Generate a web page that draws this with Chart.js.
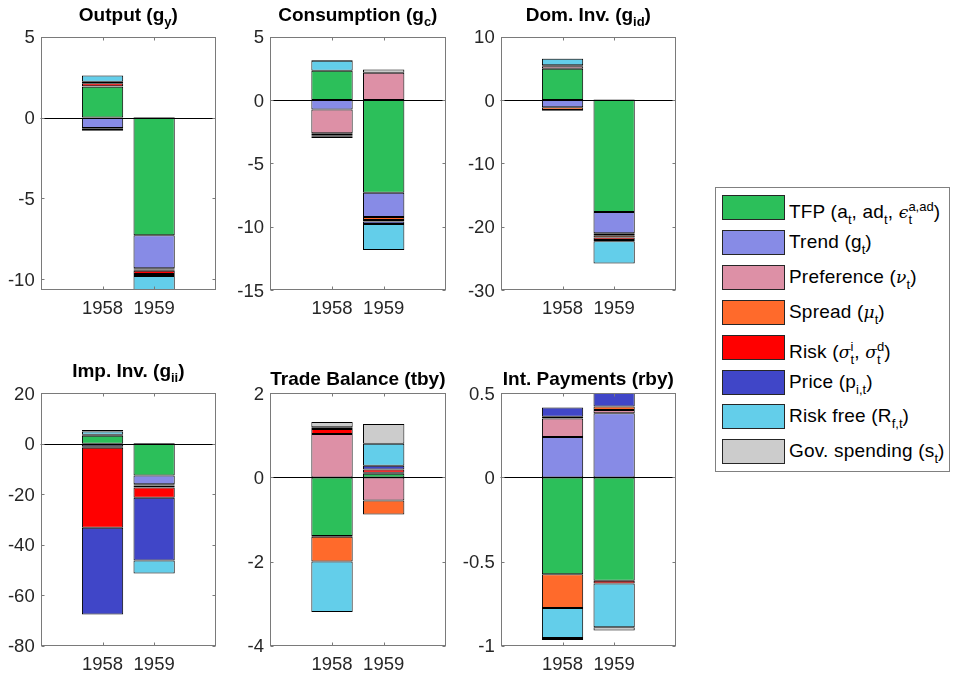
<!DOCTYPE html>
<html>
<head>
<meta charset="utf-8">
<script src="https://cdn.jsdelivr.net/npm/chart.js@4.4.1/dist/chart.umd.min.js"></script>
<style>
  html, body { margin: 0; padding: 0; background: #fff; }
  #fig { position: relative; width: 954px; height: 679px; overflow: hidden;
         font-family: "Liberation Sans", Arial, Helvetica, sans-serif; }
  #fig canvas { position: absolute; left: 0; top: 0; }
  #legendBox { position: absolute; left: 715px; top: 187px; width: 235px; height: 285px;
               border: 1px solid #808080; box-sizing: border-box; background: #fff; }
  .sw { position: absolute; left: 722px; width: 63px; height: 25px; box-sizing: border-box;
        border: 1px solid #262626; }
  .lt { position: absolute; left: 789px; top: 0; height: 25px; line-height: 25px;
        font-size: 19px; letter-spacing: 0.2px; color: #000; white-space: nowrap; }
  .lt .sb { font-size: 13px; position: relative; top: 6px; letter-spacing: 0; }
  .lt i { font-family: "DejaVu Serif", serif; font-size: 17px; }
  .ss { display: inline-block; position: relative; top: 6px; vertical-align: baseline;
        font-size: 13px; line-height: 13px; letter-spacing: 0; }
  .ss > span { display: block; }
</style>
</head>
<body>
<div id="fig">
  <canvas id="c1" width="954" height="679"></canvas>
  <canvas id="c2" width="954" height="679"></canvas>
  <canvas id="c3" width="954" height="679"></canvas>
  <canvas id="c4" width="954" height="679"></canvas>
  <canvas id="c5" width="954" height="679"></canvas>
  <canvas id="c6" width="954" height="679"></canvas>
  <div id="legendBox"></div>
</div>
<script>
// Years shown on every panel
const years = [1958, 1959];

// Shock groups, in stacking order, and their fill colours
const shockNames = ['TFP', 'Trend', 'Preference', 'Spread', 'Risk', 'Price', 'Risk free', 'Gov. spending'];
const shockColors = ['#2CBF5A', '#878BE6', '#DD90A6', '#FF6A2B', '#FF0000', '#4046C8', '#63CEEA', '#CCCCCC'];

// Historical decomposition: one row per shock, columns = [1958, 1959]
const outputContrib = [
  [1.90, -7.28], [-0.64, -2.04], [-0.05, -0.07], [0.04, -0.08],
  [0.18, -0.20], [0.10, -0.12], [0.38, -0.87], [-0.12, 0.03]
];
const consumptionContrib = [
  [2.31, -7.32], [-0.74, -1.92], [-1.89, 2.16], [-0.16, -0.23],
  [-0.08, -0.12], [-0.13, -0.20], [0.79, -2.05], [0.06, 0.26]
];
const domInvContrib = [
  [4.95, -17.70], [-1.16, -3.35], [0.40, -0.30], [-0.40, -0.35],
  [-0.15, -0.40], [0.15, -0.20], [1.00, -3.50], [0.05, 0.10]
];
const impInvContrib = [
  [3.20, -12.60], [-1.00, -3.40], [0.40, -0.50], [-0.60, -0.80],
  [-31.70, -4.10], [-34.30, -24.80], [1.30, -5.20], [0.60, 0.30]
];
const tradeBalanceContrib = [
  [-1.39, 0.09], [-0.02, 0.02], [1.03, -0.55], [-0.59, -0.33],
  [0.12, 0.08], [0.04, 0.09], [-1.20, 0.52], [0.13, 0.47]
];
const intPaymentsContrib = [
  [-0.576, -0.614], [0.240, 0.381], [0.110, 0.020], [-0.200, 0.020],
  [0.010, -0.016], [0.055, 0.090], [-0.178, -0.261], [-0.012, -0.019]
];

// Vertical axis limits and tick values per panel
const outputRange = [-10.66, 5],   outputTicks = [-10, -5, 0, 5];
const consumptionRange = [-15, 5], consumptionTicks = [-15, -10, -5, 0, 5];
const domInvRange = [-30, 10],     domInvTicks = [-30, -20, -10, 0, 10];
const impInvRange = [-80, 20],     impInvTicks = [-80, -60, -40, -20, 0, 20];
const tradeRange = [-4, 2],        tradeTicks = [-4, -2, 0, 2];
const intPayRange = [-1, 0.5],     intPayTicks = [-1, -0.5, 0, 0.5];

// Horizontal axis limits (years)
const xRange = [1956.8, 1960.2];

const FONT = '"Liberation Sans", Arial, Helvetica, sans-serif';
const TICK_FONT = '18.5px ' + FONT;
const AXW = 40, AXH = 34;
const W = 954, H = 679;

// Box, inward ticks, tick labels, zero line and a title with subscripts
const panelDecor = {
  id: 'panelDecor',
  afterDatasetsDraw(chart, args, opts) {
    const { ctx, chartArea: a, scales: { x, y } } = chart;
    ctx.save();
    ctx.lineWidth = 1;
    const y0 = Math.round(y.getPixelForValue(0)) + 0.5;
    ctx.strokeStyle = '#000';
    ctx.beginPath(); ctx.moveTo(a.left, y0); ctx.lineTo(a.right, y0); ctx.stroke();

    const L = Math.round(a.left) + 0.5, R = Math.round(a.right) - 0.5;
    const T = Math.round(a.top) + 0.5, B = Math.round(a.bottom) - 0.5;
    ctx.strokeStyle = '#7a7a7a';
    ctx.strokeRect(L, T, R - L, B - T);
    const tl = 3;
    ctx.beginPath();
    y.ticks.forEach(t => {
      const p = Math.round(y.getPixelForValue(t.value)) + 0.5;
      ctx.moveTo(L, p); ctx.lineTo(L + tl, p);
      ctx.moveTo(R, p); ctx.lineTo(R - tl, p);
    });
    x.ticks.forEach(t => {
      const p = Math.round(x.getPixelForValue(t.value)) + 0.5;
      ctx.moveTo(p, B); ctx.lineTo(p, B - tl);
      ctx.moveTo(p, T); ctx.lineTo(p, T + tl);
    });
    ctx.stroke();

    // tick labels
    ctx.fillStyle = '#262626';
    ctx.font = TICK_FONT;
    ctx.textBaseline = 'alphabetic';
    ctx.textAlign = 'right';
    y.ticks.forEach(t => {
      ctx.fillText(String(t.value), a.left - 6, y.getPixelForValue(t.value) + 6.6);
    });
    ctx.textAlign = 'center';
    x.ticks.forEach(t => {
      ctx.fillText(String(t.value), x.getPixelForValue(t.value), a.bottom + 24.3);
    });

    // title
    const segs = opts.title || [];
    const mainFont = 'bold 19px ' + FONT, subFont = 'bold 13px ' + FONT;
    let total = 0;
    segs.forEach(s => { ctx.font = s[1] ? subFont : mainFont; total += ctx.measureText(s[0]).width; });
    let cx = (a.left + a.right) / 2 - total / 2;
    const base = a.top - opts.gap;
    ctx.fillStyle = '#000';
    ctx.textAlign = 'left';
    segs.forEach(s => {
      ctx.font = s[1] ? subFont : mainFont;
      ctx.fillText(s[0], cx, base + (s[1] ? 5 : 0));
      cx += ctx.measureText(s[0]).width;
    });
    ctx.restore();
  }
};

function makePanel(id, area, title, gap, contrib, range, tickVals) {
  const datasets = shockNames.map((name, i) => ({
    label: name,
    stack: 'all',
    data: years.map((yr, j) => ({ x: yr, y: contrib[i][j] })),
    backgroundColor: shockColors[i],
    borderColor: '#000',
    borderWidth: 1,
    borderSkipped: false,
    barPercentage: 0.8,
    categoryPercentage: 1.0
  }));
  new Chart(document.getElementById(id), {
    type: 'bar',
    data: { datasets },
    options: {
      responsive: false,
      animation: false,
      events: [],
      layout: { padding: { left: area.l - AXW, right: W - area.r, top: area.t, bottom: H - area.b - AXH } },
      plugins: {
        legend: { display: false },
        tooltip: { enabled: false },
        panelDecor: { title, gap }
      },
      scales: {
        x: {
          type: 'linear', offset: false, min: xRange[0], max: xRange[1],
          grid: { display: false }, border: { display: false },
          afterBuildTicks: s => { s.ticks = years.map(v => ({ value: v })); },
          afterFit: s => { s.height = AXH; },
          ticks: { display: false }
        },
        y: {
          type: 'linear', stacked: true, min: range[0], max: range[1],
          grid: { display: false }, border: { display: false },
          afterBuildTicks: s => { s.ticks = tickVals.map(v => ({ value: v })); },
          afterFit: s => { s.width = AXW; },
          ticks: { display: false }
        }
      }
    },
    plugins: [panelDecor]
  });
}

const topRow = { t: 36.7, b: 290 }, botRow = { t: 393.3, b: 645.7 };
const cols = [{ l: 40.7, r: 216 }, { l: 270, r: 445.7 }, { l: 500.7, r: 676 }];

makePanel('c1', { ...cols[0], ...topRow }, [['Output (g', 0], ['y', 1], [')', 0]], 15.7, outputContrib, outputRange, outputTicks);
makePanel('c2', { ...cols[1], ...topRow }, [['Consumption (g', 0], ['c', 1], [')', 0]], 15.7, consumptionContrib, consumptionRange, consumptionTicks);
makePanel('c3', { ...cols[2], ...topRow }, [['Dom. Inv. (g', 0], ['id', 1], [')', 0]], 15.7, domInvContrib, domInvRange, domInvTicks);
makePanel('c4', { ...cols[0], ...botRow }, [['Imp. Inv. (g', 0], ['ii', 1], [')', 0]], 16, impInvContrib, impInvRange, impInvTicks);
makePanel('c5', { ...cols[1], ...botRow }, [['Trade Balance (tby)', 0]], 8.3, tradeBalanceContrib, tradeRange, tradeTicks);
makePanel('c6', { ...cols[2], ...botRow }, [['Int. Payments (rby)', 0]], 8.3, intPaymentsContrib, intPayRange, intPayTicks);

// Legend
const legendLabels = [
  'TFP (a<span class="sb">t</span>, ad<span class="sb">t</span>,&nbsp;<i>&#x03F5;</i><span class="ss"><span>a,ad</span><span>t</span></span>)',
  'Trend (g<span class="sb">t</span>)',
  'Preference (<i>&#x03BD;</i><span class="sb">t</span>)',
  'Spread (<i>&#x03BC;</i><span class="sb">t</span>)',
  'Risk (<i>&#x03C3;</i><span class="ss"><span>i</span><span>t</span></span>,&nbsp;<i>&#x03C3;</i><span class="ss"><span>d</span><span>t</span></span>)',
  'Price (p<span class="sb">i,t</span>)',
  'Risk free (R<span class="sb">f,t</span>)',
  'Gov. spending (s<span class="sb">t</span>)'
];
const fig = document.getElementById('fig');
legendLabels.forEach((html, i) => {
  const top = 195 + i * 34.9;
  const sw = document.createElement('div');
  sw.className = 'sw';
  sw.style.top = top + 'px';
  sw.style.background = shockColors[i];
  fig.appendChild(sw);
  const lt = document.createElement('div');
  lt.className = 'lt';
  lt.style.top = (top - 1) + 'px';
  lt.innerHTML = html;
  fig.appendChild(lt);
});
</script>
</body>
</html>
